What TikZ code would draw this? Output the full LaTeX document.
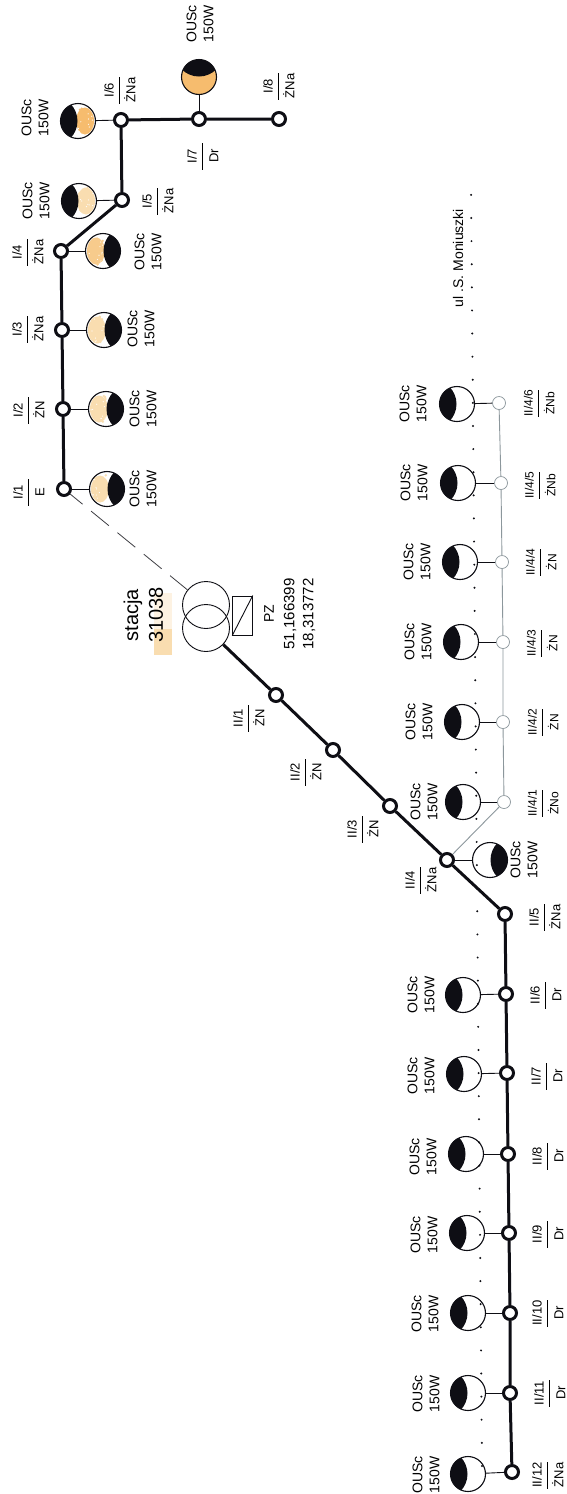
\documentclass[tikz,border=0pt]{standalone}
\usepackage{fontspec}
\setmainfont{Liberation Sans}
\definecolor{blk}{HTML}{0E0E14}
\definecolor{grayline}{HTML}{8C979C}
\definecolor{pale}{HTML}{F9DDB0}
\definecolor{mid}{HTML}{F7CB8C}
\definecolor{strong}{HTML}{F6BC6E}
\definecolor{hlite}{HTML}{FDF2E2}
\tikzset{
  ring/.style={circle,draw=blk,fill=white,line width=3pt,minimum size=13pt,inner sep=0pt},
  thinring/.style={circle,draw=grayline,fill=white,line width=.7pt,minimum size=13pt,inner sep=0pt},
  lampbase/.style={circle,draw=blk,fill=white,line width=1.1pt,minimum size=35pt,inner sep=0pt},
  stub/.style={draw=blk,line width=.9pt},
  mainline/.style={draw=blk,line width=3pt},
  branch/.style={draw=grayline,line width=.9pt},
  frac/.style={rotate=90,inner sep=0pt,font=\fontsize{13}{14}\selectfont},
  fracsmall/.style={frac,font=\fontsize{12}{14}\selectfont},
  lamptext/.style={rotate=90,inner sep=0pt,align=center,font=\fontsize{14}{17}\selectfont},
  xfmr/.style={circle,draw=blk,line width=.9pt,minimum size=47pt,inner sep=0pt},
}
\newcommand\lampnode[5]{%
  \node[lampbase,path picture={%
      \ifx#5n\else
        \fill[#5] ({-7*#4},0) ellipse (9pt and 13.5pt);
        \pgfmathsetseed{#2}
        \foreach \k in {1,...,14}{\fill[#5] ({-rnd*15*#4},{rnd*28-14}) circle (1.3pt);}
        \foreach \k in {1,...,9}{\fill[white] ({-rnd*15*#4},{rnd*24-12}) circle (.6pt);}
      \fi
      \fill[blk] ({25*#4},0) circle (24.5pt);
    }] (#1) at (#2,#3) {};}
\newcommand\fr[2]{\def\arraystretch{0}\setlength\arrayrulewidth{.9pt}\begin{tabular}{@{}c@{}}\makebox[27pt]{#1}\rule[-5pt]{0pt}{21pt}\\\hline\makebox[27pt]{#2}\rule[-5pt]{0pt}{21pt}\end{tabular}}
\newcommand\lbl[5]{\node[frac] (#1) at (#2,#3) {\fr{#4}{#5}};}
\newcommand\lbs[5]{\node[fracsmall] (#1) at (#2,#3) {\fr{#4}{#5}};}
\newcommand\ltx[3]{\node[lamptext] (#1) at (#2,#3) {OUSc\\150W};}
\begin{document}
\begin{tikzpicture}[x=1pt,y=-1pt]
\useasboundingbox (0,0) rectangle (567,1494);
\fill[white] (0,0) rectangle (567,1494);
% highlight behind station number
\node[fill=hlite,inner sep=0pt,minimum width=18pt,minimum height=62pt] (hl) at (162.5,624) {};
\node[fill=pale,inner sep=0pt,minimum width=18pt,minimum height=26pt] (hm) at (162.5,642) {};
% poles, line I
\node[ring] (I1) at (64,489) {};
\node[ring] (I2) at (63,409) {};
\node[ring] (I3) at (62,330) {};
\node[ring] (I4) at (61,251) {};
\node[ring] (I5) at (122,200) {};
\node[ring] (I6) at (121,120) {};
\node[ring] (I7) at (199,119) {};
\node[ring] (I8) at (279,119) {};
% poles, line II
\node[ring] (A1) at (276,695) {};
\node[ring] (A2) at (333,750) {};
\node[ring] (A3) at (390,806) {};
\node[ring] (A4) at (447,860) {};
\node[ring] (A5) at (505,914) {};
\node[ring] (A6) at (506,994) {};
\node[ring] (A7) at (507,1073) {};
\node[ring] (A8) at (508,1154) {};
\node[ring] (A9) at (509,1233) {};
\node[ring] (A10) at (510,1313) {};
\node[ring] (A11) at (510,1393) {};
\node[ring] (A12) at (512,1472) {};
% poles, branch II/4
\node[thinring] (B1) at (504,802) {};
\node[thinring] (B2) at (503,722) {};
\node[thinring] (B3) at (503,642) {};
\node[thinring] (B4) at (502,562) {};
\node[thinring] (B5) at (501,483) {};
\node[thinring] (B6) at (499,403) {};
% lamps, line I
\lampnode{LI1}{107}{489}{1}{pale}
\lampnode{LI2}{106}{409}{1}{pale}
\lampnode{LI3}{104}{330}{1}{pale}
\lampnode{LI4}{103}{251}{1}{mid}
\lampnode{LI5}{79}{201}{-1}{pale}
\lampnode{LI6}{78}{121}{-1}{strong}
\node[lampbase,fill=strong,path picture={\fill[blk] (0,-25) circle (24.5pt);}] (LI7) at (199,77) {};
% lamps, line II
\lampnode{LA4}{490}{860}{1}{n}
\lampnode{LA6}{463}{995}{-1}{n}
\lampnode{LA7}{464}{1074}{-1}{n}
\lampnode{LA8}{466}{1154}{-1}{n}
\lampnode{LA9}{467}{1233}{-1}{n}
\lampnode{LA10}{468}{1313}{-1}{n}
\lampnode{LA11}{468}{1393}{-1}{n}
\lampnode{LA12}{468}{1474}{-1}{n}
% lamps, branch
\lampnode{LB1}{463}{802}{-1}{n}
\lampnode{LB2}{462}{722}{-1}{n}
\lampnode{LB3}{461}{642}{-1}{n}
\lampnode{LB4}{460}{562}{-1}{n}
\lampnode{LB5}{458}{483}{-1}{n}
\lampnode{LB6}{457}{404}{-1}{n}
% stubs
\foreach \a/\b in {LI1/I1,LI2/I2,LI3/I3,LI4/I4,LI5/I5,LI6/I6,LI7/I7,LA4/A4,LA6/A6,LA7/A7,LA8/A8,LA9/A9,LA10/A10,LA11/A11,LA12/A12,LB1/B1,LB2/B2,LB3/B3,LB4/B4,LB5/B5,LB6/B6}
  \draw[stub] (\a) -- (\b);
% transformer
\node[xfmr] (T1) at (206,605) {};
\node[xfmr] (T2) at (206,628) {};
\node[draw=blk,line width=.9pt,minimum width=19.5pt,minimum height=39pt,inner sep=0pt] (PZbox) at (242.5,615.5) {};
\draw[blk,line width=.9pt] (PZbox.north east) -- (PZbox.south west);
% lines
\draw[mainline] (I8) -- (I7) -- (I6) -- (I5) -- (I4) -- (I3) -- (I2) -- (I1);
\draw[mainline] (T2) -- (A1) -- (A2) -- (A3) -- (A4) -- (A5) -- (A6) -- (A7) -- (A8) -- (A9) -- (A10) -- (A11) -- (A12);
\draw[branch] (A4) -- (B1) -- (B2) -- (B3) -- (B4) -- (B5) -- (B6);
\draw[blk!80,line width=.8pt,dash pattern=on 23pt off 11pt,dash phase=7pt] (I1) -- (T1);
% row of dots
\foreach \n in {-1,0,...,54}{
  \pgfmathsetmacro\dy{218+23.11*\n}
  \pgfmathsetmacro\dx{471+(\dy-185)*11/1281}
  \fill[blk] (\dx,\dy) circle (1.1pt);
}
% fraction labels
\lbl{tI1}{28}{492}{I/1}{E}
\lbl{tI2}{28}{410}{I/2}{ŻN}
\lbl{tI3}{27}{329}{I/3}{ŻNa}
\lbl{tI4}{27}{252}{I/4}{ŻNa}
\lbl{tI5}{157}{201}{I/5}{ŻNa}
\lbl{tI6}{119}{90}{I/6}{ŻNa}
\lbl{tI7}{202}{156}{I/7}{Dr}
\lbl{tI8}{278}{86}{I/8}{ŻNa}
\lbl{tA1}{248}{718}{II/1}{ŻN}
\lbl{tA2}{305}{772}{II/2}{ŻN}
\lbl{tA3}{362}{829}{II/3}{ŻN}
\lbl{tA4}{420}{880}{II/4}{ŻNa}
\lbl{tA5}{544}{917}{II/5}{ŻNa}
\lbl{tA6}{545}{995}{II/6}{Dr}
\lbl{tA7}{546}{1076}{II/7}{Dr}
\lbl{tA8}{547}{1156}{II/8}{Dr}
\lbl{tA9}{547}{1234}{II/9}{Dr}
\lbl{tA10}{547}{1313}{II/10}{Dr}
\lbl{tA11}{549}{1393}{II/11}{Dr}
\lbl{tA12}{547}{1475}{II/12}{ŻNa}
\lbs{tB1}{542}{803}{II/4/1}{ŻNo}
\lbs{tB2}{542}{722}{II/4/2}{ŻN}
\lbs{tB3}{541}{643}{II/4/3}{ŻN}
\lbs{tB4}{540}{562}{II/4/4}{ŻN}
\lbs{tB5}{539}{485}{II/4/5}{ŻNb}
\lbs{tB6}{538}{403}{II/4/6}{ŻNb}
% lamp labels
\ltx{xI1}{143}{489}
\ltx{xI2}{143}{409}
\ltx{xI3}{141}{329}
\ltx{xI4}{148}{252}
\ltx{xI5}{36}{201}
\ltx{xI6}{35}{118}
\ltx{xI7}{200}{24}
\ltx{xA4}{524}{860}
\ltx{xA6}{421}{995}
\ltx{xA7}{421}{1076}
\ltx{xA8}{423}{1157}
\ltx{xA9}{424}{1235}
\ltx{xA10}{425}{1314}
\ltx{xA11}{426}{1394}
\ltx{xA12}{426}{1475}
\ltx{xB1}{424}{802}
\ltx{xB2}{419}{722}
\ltx{xB3}{418}{642}
\ltx{xB4}{417}{562}
\ltx{xB5}{414}{483}
\ltx{xB6}{413}{404}
% station text
\node[rotate=90,inner sep=0pt,font=\fontsize{20}{24}\selectfont] (st) at (133,615) {stacja};
\node[rotate=90,inner sep=0pt,font=\fontsize{20}{24}\selectfont] (num) at (156,615) {31038};
\node[rotate=90,inner sep=0pt,font=\fontsize{14}{17}\selectfont] (pz) at (269,614) {PZ};
\node[rotate=90,inner sep=0pt,font=\fontsize{15}{18}\selectfont] (g1) at (290,614) {51,166399};
\node[rotate=90,inner sep=0pt,font=\fontsize{15}{18}\selectfont] (g2) at (309,614) {18,313772};
\node[rotate=90,inner sep=0pt,font=\fontsize{14}{17}\selectfont] (ul) at (458,258) {ul .S. Moniuszki};
\end{tikzpicture}
\end{document}
